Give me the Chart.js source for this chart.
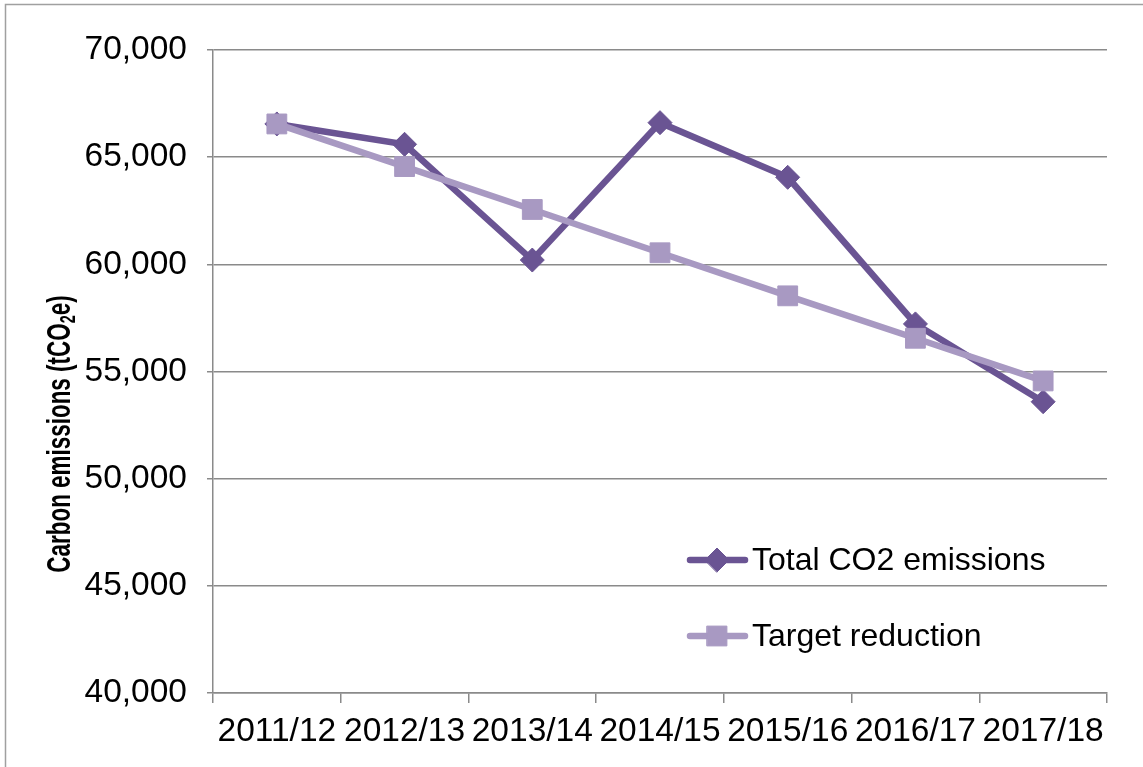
<!DOCTYPE html>
<html>
<head>
<meta charset="utf-8">
<script src="https://cdn.jsdelivr.net/npm/chart.js@4.4.1/dist/chart.umd.min.js"></script>
<style>
  html, body { margin: 0; padding: 0; background: #ffffff; }
  #wrap { width: 1143px; height: 767px; position: relative; }
</style>
</head>
<body>
<div id="wrap"><canvas id="c" width="1143" height="767"></canvas></div>
<script>
const categories = ['2011/12', '2012/13', '2013/14', '2014/15', '2015/16', '2016/17', '2017/18'];
const totalEmissions = [66550, 65600, 60200, 66610, 64060, 57220, 53590];
const targetReduction = [66550, 64560, 62560, 60540, 58530, 56550, 54560];
const yTicks = [40000, 45000, 50000, 55000, 60000, 65000, 70000];
const seriesNames = ['Total CO2 emissions', 'Target reduction'];
const yTitleParts = ['Carbon emissions (tCO', '2', 'e)'];

const COL_TOTAL = '#6a5493';
const COL_TARGET = '#a899c2';
const GRID = '#8a8a8a';
const FONT = "'Liberation Sans', Arial, sans-serif";

const framePlugin = {
  id: 'frame',
  beforeDraw(chart) {
    const ctx = chart.ctx;
    ctx.save();
    ctx.fillStyle = '#ffffff';
    ctx.fillRect(0, 0, chart.width, chart.height);
    ctx.strokeStyle = '#a0a0a0';
    ctx.lineWidth = 1.5;
    ctx.strokeRect(5.5, 4.5, chart.width + 20, chart.height + 20);
    ctx.restore();
  }
};

const yTitlePlugin = {
  id: 'yTitle',
  afterDraw(chart) {
    const ctx = chart.ctx;
    ctx.save();
    const big = 'bold 34px ' + FONT;
    const small = 'bold 22px ' + FONT;
    const squeeze = 0.66;
    ctx.font = big;
    const w1 = ctx.measureText(yTitleParts[0]).width;
    const w3 = ctx.measureText(yTitleParts[2]).width;
    ctx.font = small;
    const w2 = ctx.measureText(yTitleParts[1]).width;
    const total = w1 + w2 + w3;
    ctx.translate(61, 434);
    ctx.rotate(-Math.PI / 2);
    ctx.scale(squeeze, 1);
    ctx.fillStyle = '#000000';
    ctx.textBaseline = 'middle';
    ctx.textAlign = 'left';
    let x = -total / 2;
    ctx.font = big;
    ctx.fillText(yTitleParts[0], x, 0);
    x += w1;
    ctx.font = small;
    ctx.fillText(yTitleParts[1], x, 8);
    x += w2;
    ctx.font = big;
    ctx.fillText(yTitleParts[2], x, 0);
    ctx.restore();
  }
};

const legendPlugin = {
  id: 'inLegend',
  afterDraw(chart) {
    const ctx = chart.ctx;
    const area = chart.chartArea;
    const x0 = area.right - 417;
    const rows = [area.bottom - 133, area.bottom - 57];
    ctx.save();
    chart.data.datasets.forEach((ds, i) => {
      const y = rows[i];
      ctx.strokeStyle = ds.borderColor;
      ctx.lineWidth = ds.borderWidth;
      ctx.lineCap = 'round';
      ctx.beginPath();
      ctx.moveTo(x0, y);
      ctx.lineTo(x0 + 55, y);
      ctx.stroke();
      ctx.fillStyle = ds.pointBackgroundColor;
      ctx.strokeStyle = ds.pointBorderColor;
      ctx.lineWidth = 1;
      Chart.helpers.drawPoint(ctx, { pointStyle: ds.pointStyle, radius: ds.pointRadius, rotation: 0, borderWidth: 1 }, x0 + 27, y);
      ctx.fillStyle = '#000000';
      ctx.font = '32px ' + FONT;
      ctx.textBaseline = 'middle';
      ctx.textAlign = 'left';
      ctx.fillText(ds.label, x0 + 62, y + 1);
    });
    ctx.restore();
  }
};

new Chart(document.getElementById('c'), {
  type: 'line',
  data: {
    labels: categories,
    datasets: [
      {
        label: seriesNames[0],
        data: totalEmissions,
        borderColor: COL_TOTAL,
        backgroundColor: COL_TOTAL,
        pointBackgroundColor: COL_TOTAL,
        pointBorderColor: COL_TOTAL,
        borderWidth: 6.5,
        pointStyle: 'rectRot',
        pointRadius: 12,
        pointBorderWidth: 1,
        tension: 0,
        order: 1
      },
      {
        label: seriesNames[1],
        data: targetReduction,
        borderColor: COL_TARGET,
        backgroundColor: COL_TARGET,
        pointBackgroundColor: COL_TARGET,
        pointBorderColor: COL_TARGET,
        borderWidth: 6.5,
        pointStyle: 'rect',
        pointRadius: 14,
        pointBorderWidth: 1,
        tension: 0,
        order: 0
      }
    ]
  },
  options: {
    responsive: false,
    animation: false,
    devicePixelRatio: 1,
    layout: { padding: { top: 50, right: 36, left: 0, bottom: 0 } },
    plugins: {
      legend: { display: false },
      tooltip: { enabled: false },
      title: { display: false }
    },
    scales: {
      x: {
        type: 'category',
        offset: true,
        grid: {
          display: true,
          offset: true,
          drawOnChartArea: false,
          drawTicks: true,
          tickLength: 10,
          color: GRID,
          lineWidth: 1.5
        },
        border: { display: true, color: GRID, width: 1.5 },
        ticks: {
          color: '#000000',
          font: { family: FONT, size: 33.5 },
          padding: 9,
          maxRotation: 0,
          autoSkip: false
        },
        afterFit(scale) { scale.height = 74; }
      },
      y: {
        min: yTicks[0],
        max: yTicks[yTicks.length - 1],
        afterBuildTicks(scale) { scale.ticks = yTicks.map(v => ({ value: v })); },
        grid: {
          display: true,
          drawOnChartArea: true,
          drawTicks: true,
          tickLength: 6,
          color: GRID,
          lineWidth: 1.5
        },
        border: { display: true, color: GRID, width: 1.5 },
        ticks: {
          color: '#000000',
          font: { family: FONT, size: 33.5 },
          padding: 20,
          callback: (v) => Number(v).toLocaleString('en-US')
        },
        afterFit(scale) { scale.width = 213; }
      }
    }
  },
  plugins: [framePlugin, yTitlePlugin, legendPlugin]
});
</script>
</body>
</html>
